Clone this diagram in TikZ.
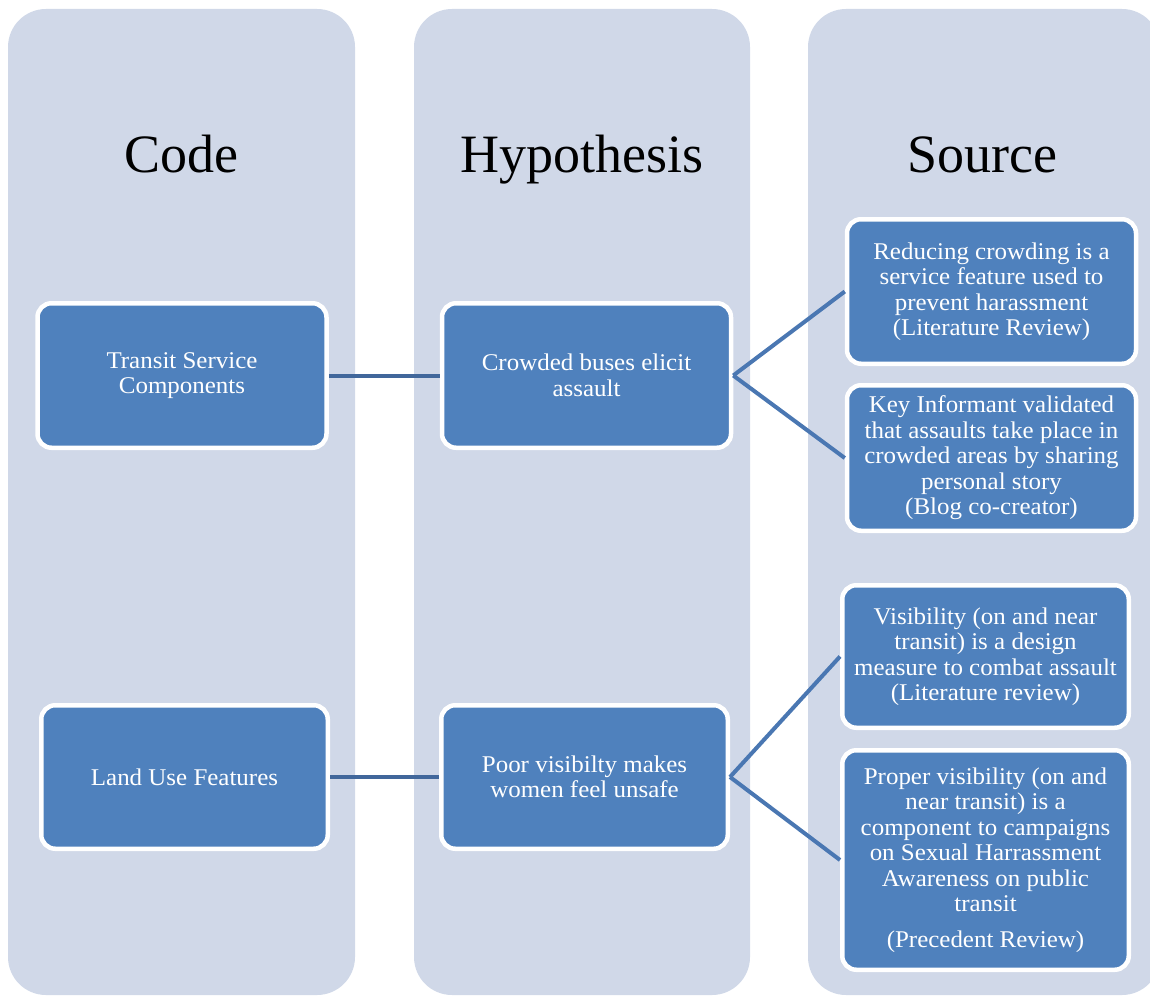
\documentclass[tikz,border=0pt]{standalone}
\usepackage{fontspec}
\setmainfont{Liberation Serif}
\newfontfamily\boxfont[FakeStretch=1.04]{Liberation Serif}
\definecolor{colbg}{HTML}{D0D8E8}
\definecolor{boxfill}{HTML}{4F81BD}
\definecolor{hline}{HTML}{41679B}
\definecolor{dline}{HTML}{4A77B2}
\begin{document}
\begin{tikzpicture}[x=1pt,y=-1pt,
  col/.style={fill=colbg, rounded corners=38pt},
  box/.style={draw=white, line width=4.5pt, fill=boxfill, rounded corners=14pt,
    text=white, align=center, inner sep=0pt,
    font=\boxfont\fontsize{24}{25.5}\selectfont,
    minimum width=289pt, minimum height=144.5pt},
  title/.style={font=\fontsize{54}{60}\selectfont, anchor=base, text=black},
  hconn/.style={draw=hline, line width=4pt},
  dconn/.style={draw=dline, line width=4pt}]
\useasboundingbox (0,0) rectangle (1150,995);
\clip (0,0) rectangle (1150,995);
% columns
\fill[col] (8,9) rectangle (355,995);
\fill[col] (414,9) rectangle (750,995);
\fill[col] (808,9) rectangle (1160,995);
% titles
\node[title] (tcode) at (181.5,173) {Code};
\node[title] (thyp) at (582,173) {Hypothesis};
\node[title] (tsrc) at (982,173) {Source};
% boxes
\node[box] (trans) at (182,375.5) {Transit Service\\Components};
\node[box] (crowd) at (586.5,375.5) {Crowded buses elicit\\assault};
\node[box] (red) at (991.5,291.5) {Reducing crowding is a\\service feature used to\\prevent harassment\\(Literature Review)};
\node[box, minimum height=145.5pt] (key) at (991.5,458) {Key Informant validated\\that assaults take place in\\crowded areas by sharing\\personal story\\(Blog co-creator)};
\node[box, minimum width=286.5pt, minimum height=143.5pt] (land) at (184.5,777) {Land Use Features};
\node[box, minimum width=286.5pt, minimum height=143.5pt] (poor) at (584.5,777) {Poor visibilty makes\\women feel unsafe};
\node[box, minimum width=286.5pt, minimum height=142.5pt] (vis) at (985.5,656.5) {Visibility (on and near\\transit) is a design\\measure to combat assault\\(Literature review)};
\node[box, minimum width=286.5pt, minimum height=219.5pt] (prop) at (985.5,860) {Proper visibility (on and\\near transit) is a\\component to campaigns\\on Sexual Harrassment\\Awareness on public\\transit\\[10pt](Precedent Review)};
% connectors
\draw[hconn] (trans.east) -- (crowd.west);
\draw[hconn] (land.east) -- (poor.west);
\draw[dconn] (crowd.east) -- (red.west);
\draw[dconn] (crowd.east) -- (key.west);
\draw[dconn] (poor.east) -- (vis.west);
\draw[dconn] (poor.east) -- (prop.west);
\end{tikzpicture}
\end{document}
